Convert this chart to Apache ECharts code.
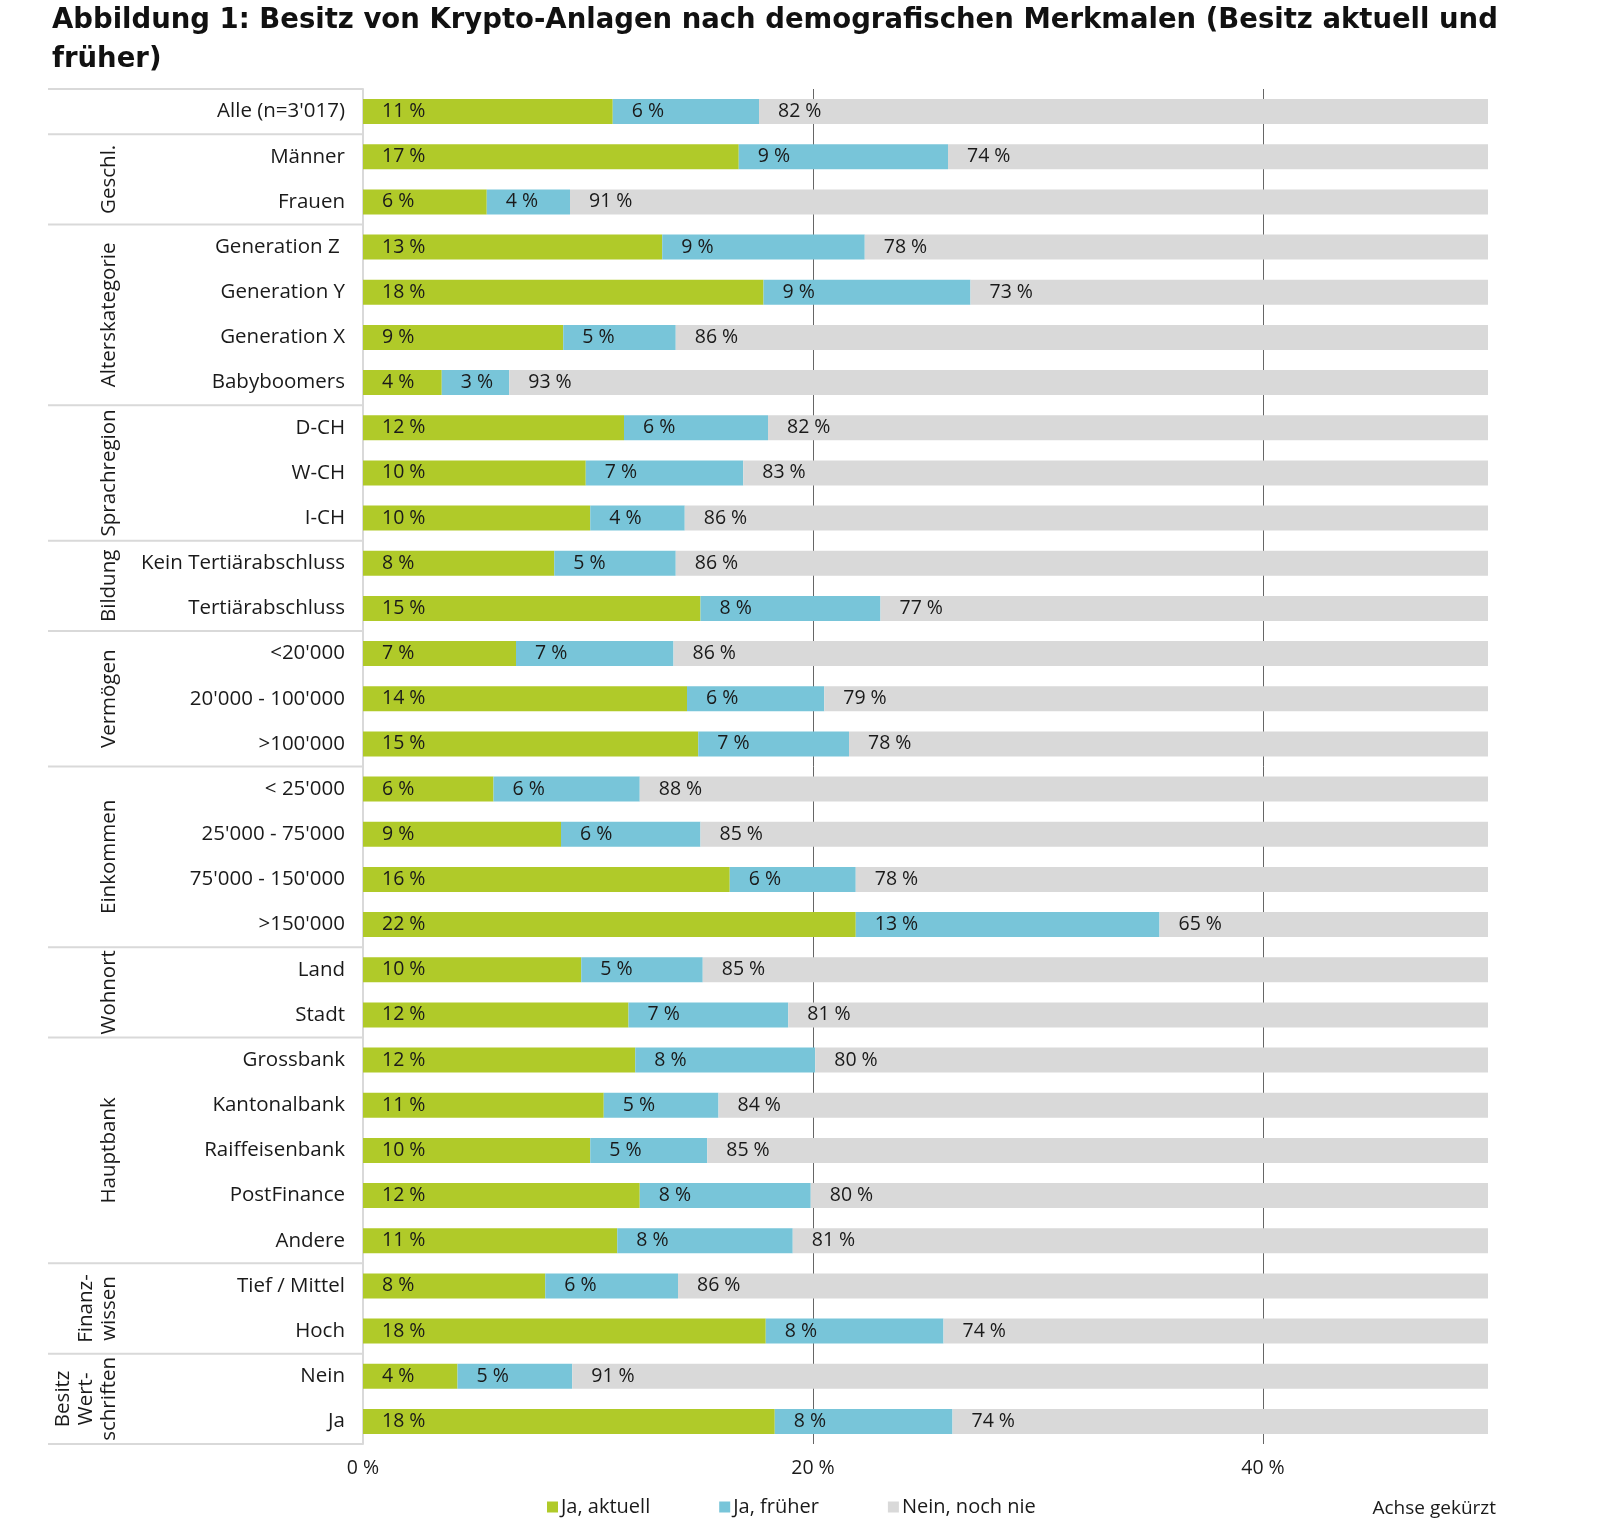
<!DOCTYPE html>
<html>
<head>
<meta charset="utf-8">
<script src="https://cdn.jsdelivr.net/npm/echarts@6/dist/echarts.min.js"></script>
<style>
html,body{margin:0;padding:0;background:#fff;}
#chart{width:1623px;height:1525px;}
</style>
</head>
<body>
<div id="chart"></div>
<script>
const categories = ["Alle (n=3'017)", "Männer", "Frauen", "Generation Z ", "Generation Y", "Generation X", "Babyboomers",
  "D-CH", "W-CH", "I-CH", "Kein Tertiärabschluss", "Tertiärabschluss", "<20'000", "20'000 - 100'000", ">100'000",
  "< 25'000", "25'000 - 75'000", "75'000 - 150'000", ">150'000", "Land", "Stadt", "Grossbank", "Kantonalbank",
  "Raiffeisenbank", "PostFinance", "Andere", "Tief / Mittel", "Hoch", "Nein", "Ja"];

const groupNames = ["", "Geschl.", "Alterskategorie", "Sprachregion", "Bildung", "Vermögen", "Einkommen", "Wohnort", "Hauptbank", "Finanz-\nwissen", "Besitz\nWert-\nschriften"];
const groupSizes = [1, 2, 4, 3, 2, 3, 4, 2, 5, 2, 2];

// bar lengths
const greenValues = [11.1, 16.7, 5.5, 13.3, 17.8, 8.9, 3.5, 11.6, 9.9, 10.1, 8.5, 15.0, 6.8, 14.4, 14.9,
  5.8, 8.8, 16.3, 21.9, 9.7, 11.8, 12.1, 10.7, 10.1, 12.3, 11.3, 8.1, 17.9, 4.2, 18.3];
const blueValues = [6.5, 9.3, 3.7, 9.0, 9.2, 5.0, 3.0, 6.4, 7.0, 4.2, 5.4, 8.0, 7.0, 6.1, 6.7,
  6.5, 6.2, 5.6, 13.5, 5.4, 7.1, 8.0, 5.1, 5.2, 7.6, 7.8, 5.9, 7.9, 5.1, 7.9];
const greyValues = [82, 74, 91, 78, 73, 86, 93, 82, 83, 86, 86, 77, 86, 79, 78,
  88, 85, 78, 65, 85, 81, 80, 84, 85, 80, 81, 86, 74, 91, 74];

// printed labels
const greenLabels = [11, 17, 6, 13, 18, 9, 4, 12, 10, 10, 8, 15, 7, 14, 15, 6, 9, 16, 22, 10, 12, 12, 11, 10, 12, 11, 8, 18, 4, 18];
const blueLabels = [6, 9, 4, 9, 9, 5, 3, 6, 7, 4, 5, 8, 7, 6, 7, 6, 6, 6, 13, 5, 7, 8, 5, 5, 8, 8, 6, 8, 5, 8];

const xTicks = { min: 0, max: 50, interval: 20 };
const seriesNames = ["Ja, aktuell", "Ja, früher", "Nein, noch nie"];
const colors = ["#b0ca29", "#78c5d9", "#d9d9d9"];

const FONT = "'Open Sans', 'Noto Sans', sans-serif";
const TXT = "#1a1a1a";

function labelCfg(fmt) {
  return {
    show: true, position: 'insideLeft', distance: 19,
    formatter: fmt, fontSize: 19.5, color: TXT, fontFamily: FONT
  };
}

const chart = echarts.init(document.getElementById('chart'), null, { renderer: 'canvas' });

const option = {
  animation: false,
  backgroundColor: '#fff',
  title: {
    text: 'Abbildung 1: Besitz von Krypto-Anlagen nach demografischen Merkmalen (Besitz aktuell und\nfrüher)',
    left: 47, top: -4,
    textStyle: { fontFamily: "'DejaVu Sans', sans-serif", fontWeight: 'bold', fontSize: 27.5, lineHeight: 39, color: '#111' }
  },
  legend: {
    data: seriesNames,
    left: 542, top: 1492,
    icon: 'rect', itemWidth: 11, itemHeight: 11, itemGap: 69,
    textStyle: { fontFamily: FONT, fontSize: 20, color: TXT, padding: [0, 0, 0, -2] },
    selectedMode: false
  },
  grid: { left: 363, right: 135, top: 89, bottom: 81, containLabel: false },
  xAxis: {
    type: 'value', min: xTicks.min, max: xTicks.max, interval: xTicks.interval,
    axisLine: { show: false }, axisTick: { show: false },
    splitLine: { show: true, showMinLine: false, showMaxLine: false, lineStyle: { color: '#666', width: 1 } },
    axisLabel: { formatter: v => v + ' %', showMaxLabel: false, showMinLabel: true, fontSize: 19.5, color: TXT, fontFamily: FONT, margin: 14 }
  },
  yAxis: {
    type: 'category', data: categories, inverse: true,
    axisLine: { show: true, lineStyle: { color: '#d9d9d9', width: 2 } },
    axisTick: { show: false },
    axisLabel: { fontSize: 20.5, color: TXT, fontFamily: FONT, margin: 18 }
  },
  series: [
    { name: seriesNames[0], type: 'bar', stack: 't', barWidth: 25, clip: true, data: greenValues,
      itemStyle: { color: colors[0] }, label: labelCfg(p => greenLabels[p.dataIndex] + ' %'), emphasis: { disabled: true } },
    { name: seriesNames[1], type: 'bar', stack: 't', barWidth: 25, clip: true, data: blueValues,
      itemStyle: { color: colors[1] }, label: labelCfg(p => blueLabels[p.dataIndex] + ' %'), emphasis: { disabled: true } },
    { name: seriesNames[2], type: 'bar', stack: 't', barWidth: 25, clip: true, data: greyValues,
      itemStyle: { color: colors[2] }, label: labelCfg(p => greyValues[p.dataIndex] + ' %'), emphasis: { disabled: true } }
  ]
};
chart.setOption(option);

// Left-hand group panel: separators and rotated group labels positioned via the category axis
const yAt = i => chart.convertToPixel({ yAxisIndex: 0 }, i);
const band = yAt(1) - yAt(0);
const gridLeft = chart.convertToPixel({ xAxisIndex: 0 }, 0);
const panelLeft = 48;
const elements = [];
let idx = 0;
const boundaries = [yAt(0) - band / 2];
groupSizes.forEach((n, g) => {
  const top = yAt(idx) - band / 2;
  const bottom = yAt(idx + n - 1) + band / 2;
  boundaries.push(bottom);
  if (groupNames[g]) {
    elements.push({
      type: 'text', x: 121, y: (top + bottom) / 2, rotation: Math.PI / 2,
      style: { text: groupNames[g], align: 'center', verticalAlign: 'bottom', fontSize: 20.5, lineHeight: 23, fontFamily: FONT, fill: TXT }
    });
  }
  idx += n;
});
boundaries.forEach(y => {
  elements.push({
    type: 'line', shape: { x1: panelLeft, y1: y, x2: gridLeft, y2: y },
    style: { stroke: '#d9d9d9', lineWidth: 2 }
  });
});
elements.push({
  type: 'text', right: 127, top: 1499,
  style: { text: 'Achse gekürzt', fontSize: 19, fontFamily: FONT, fill: TXT }
});
chart.setOption({ graphic: elements });
</script>
</body>
</html>
